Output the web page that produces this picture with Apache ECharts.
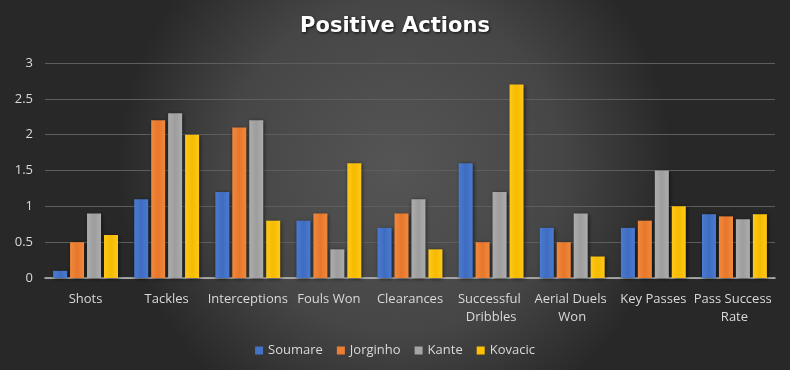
<!DOCTYPE html>
<html>
<head>
<meta charset="utf-8">
<script src="https://cdn.jsdelivr.net/npm/echarts@6/dist/echarts.min.js"></script>
<style>
html,body{margin:0;padding:0;background:#333;}
#chart{width:790px;height:370px;}
</style>
</head>
<body>
<div id="chart"></div>
<script>
const categories = ["Shots","Tackles","Interceptions","Fouls Won","Clearances","Successful Dribbles","Aerial Duels Won","Key Passes","Pass Success Rate"];
const soumare  = [0.1, 1.1, 1.2, 0.8, 0.7, 1.6, 0.7, 0.7, 0.89];
const jorginho = [0.5, 2.2, 2.1, 0.9, 0.9, 0.5, 0.5, 0.8, 0.86];
const kante    = [0.9, 2.3, 2.2, 0.4, 1.1, 1.2, 0.9, 1.5, 0.82];
const kovacic  = [0.6, 2.0, 0.8, 1.6, 0.4, 2.7, 0.3, 1.0, 0.89];
const yTicks = [0, 0.5, 1, 1.5, 2, 2.5, 3];

function grad(top, bottom){
  return new echarts.graphic.LinearGradient(0,0,1,0,[{offset:0,color:top},{offset:0.5,color:bottom},{offset:1,color:top}]);
}
const colors = [
  grad('#4a7bd0','#3f6cc0'),
  grad('#f08a3e','#e8762a'),
  grad('#adadad','#9d9d9d'),
  grad('#ffc81a','#f5bb00')
];
const legendColors = ['#4472c4','#ed7d31','#a5a5a5','#ffc000'];
const names = ["Soumare","Jorginho","Kante","Kovacic"];
const values = [soumare, jorginho, kante, kovacic];

const chart = echarts.init(document.getElementById('chart'));
chart.setOption({
  animation:false,
  backgroundColor: new echarts.graphic.RadialGradient(0.5,0.45,0.75,[
    {offset:0,color:'#555555'},{offset:0.6,color:'#464646'},{offset:1,color:'#282828'}
  ]),
  title:{
    text:'Positive Actions',
    left:'center', top:11,
    textStyle:{color:'#ffffff',fontSize:21,fontWeight:'bold',fontFamily:'DejaVu Sans',
      textShadowColor:'rgba(0,0,0,0.8)',textShadowBlur:3,textShadowOffsetX:1,textShadowOffsetY:1}
  },
  legend:{
    bottom:8, left:'center',
    itemWidth:8, itemHeight:8, itemGap:14,
    icon:'rect',
    textStyle:{color:'#d9d9d9',fontSize:13,fontFamily:'Open Sans'},
    data: names.map((n,i)=>({name:n,itemStyle:{color:legendColors[i]}}))
  },
  grid:{left:45,right:15,top:63,bottom:92,containLabel:false},
  xAxis:{
    type:'category',
    data:categories,
    axisLine:{lineStyle:{color:'#bfbfbf',width:1.5}},
    axisTick:{show:false},
    axisLabel:{color:'#d9d9d9',fontSize:13,fontFamily:'Open Sans',interval:0,margin:12,
      width:92,overflow:'break',lineHeight:18}
  },
  yAxis:{
    type:'value',min:0,max:3,interval:0.5,
    axisLine:{show:false},axisTick:{show:false},
    splitLine:{lineStyle:{color:'#5e5e5e',width:1}},
    axisLabel:{color:'#d9d9d9',fontSize:13,fontFamily:'Open Sans',margin:12}
  },
  series: names.map((n,i)=>({
    name:n,type:'bar',data:values[i],
    barGap:'21%',barCategoryGap:'20%',
    itemStyle:{color:colors[i],shadowColor:'rgba(0,0,0,0.6)',shadowBlur:4,shadowOffsetX:1,shadowOffsetY:1}
  }))
});
</script>
</body>
</html>
